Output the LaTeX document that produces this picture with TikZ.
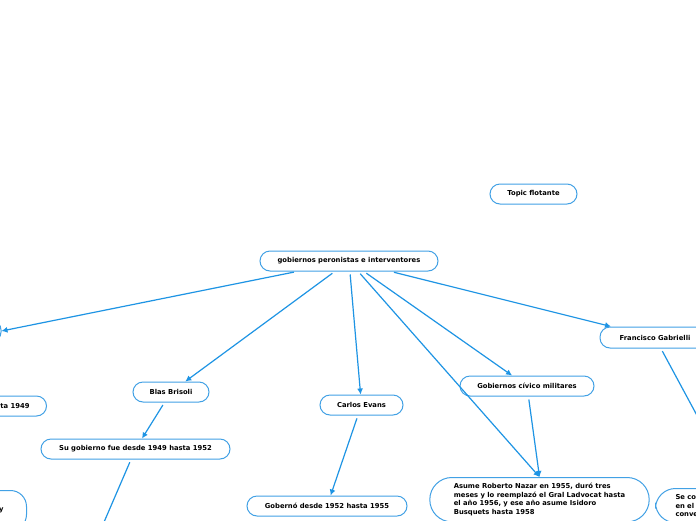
\documentclass[tikz,border=0pt]{standalone}
\usepackage{fontspec}
\setmainfont{DejaVu Sans}
\usetikzlibrary{arrows.meta}
\definecolor{topicline}{RGB}{66,161,229}
\definecolor{linkblue}{RGB}{30,148,228}

\begin{document}
\begin{tikzpicture}[x=1pt,y=-1pt,
  topic/.style={draw=topicline, line width=1pt, fill=white, rounded corners=10pt,
    minimum height=20pt, inner sep=0pt, font=\fontsize{6.8}{8.5}\selectfont\bfseries},
  link/.style={draw=linkblue, line width=1.2pt, -{Latex[length=6pt,width=6pt]}, shorten <=3pt}]
\useasboundingbox (0,0) rectangle (696,520);
\fill[white] (0,0) rectangle (696,520);
\clip (0,0) rectangle (696,520);
% topics
\node[topic, minimum width=178pt] (central) at (349,261) {gobiernos peronistas e interventores};
\node[topic, minimum width=87pt] (flotante) at (533.5,194) {Topic flotante};
\node[topic, minimum width=120pt, minimum height=22pt] (izq) at (-59,331) {};
\node[topic, anchor=east, inner xsep=17pt] (hasta) at (47,406) {hasta 1949};
\node[topic, anchor=north east, inner xsep=23pt, minimum height=40pt, rounded corners=16pt] (yy) at (27,490) {y};
\node[topic, minimum width=76pt] (blas) at (171,392) {Blas Brisoli};
\node[topic, minimum width=189pt] (sugob) at (135.5,449) {Su gobierno fue desde 1949 hasta 1952};
\node[topic, minimum width=83pt] (evans) at (361.5,405) {Carlos Evans};
\node[topic, minimum width=160pt] (gobdesde) at (327,506) {Gobernó desde 1952 hasta 1955};
\node[topic, minimum width=134pt] (civico) at (527,386) {Gobiernos cívico militares};
\node[topic, minimum width=110pt, minimum height=21pt] (gabrielli) at (655,337.5) {Francisco Gabrielli};
\node[topic, anchor=north, align=left, inner xsep=24pt, inner ysep=6pt, rounded corners=22pt] (nazar) at (539.5,477)
  {Asume Roberto Nazar en 1955, duró tres\\meses y lo reemplazó el Gral Ladvocat hasta\\el año 1956, y ese año asume Isidoro\\Busquets hasta 1958};
\node[topic, anchor=north west, align=left, text width=140pt, inner xsep=20pt, inner ysep=6pt, rounded corners=20pt] (serco) at (655,488)
  {Se co\\en el\\conve};
\coordinate (sgchild) at (92,550);
% links
\draw[link] (central) -- (izq.east);
\draw[link] (central) -- (blas);
\draw[link] (central) -- (evans);
\draw[link] (central) -- (civico);
\draw[link] (central) -- (nazar.north);
\draw[link] (central) -- (gabrielli);
\draw[link] (blas) -- (sugob);
\draw[link] (evans) -- (gobdesde);
\draw[link] (civico) -- (nazar.north);
\draw[link] (gabrielli) -- (serco);
\draw[link] (sugob) -- (sgchild);
\end{tikzpicture}
\end{document}
